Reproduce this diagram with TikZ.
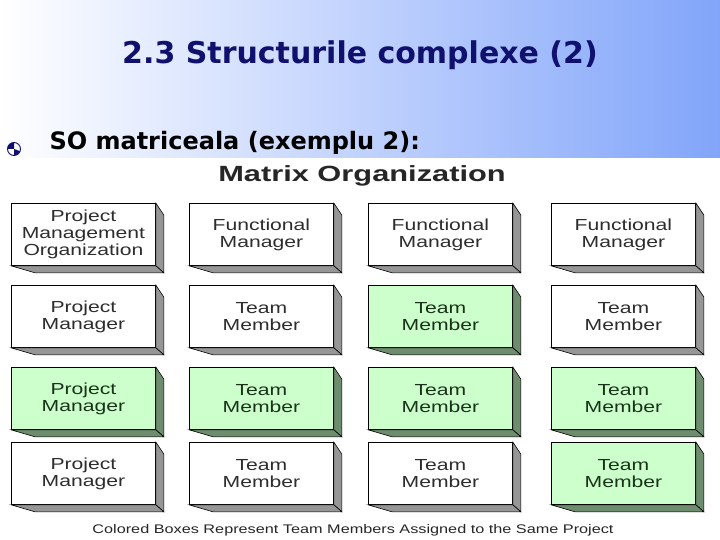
\documentclass[tikz,border=0pt]{standalone}
\usepackage{fontspec}
\usetikzlibrary{calc}
\setmainfont{DejaVu Sans}
\newfontfamily\boxfont[FakeStretch=1.32]{Liberation Sans}
\newfontfamily\capfont[FakeStretch=1.3]{Liberation Sans}
\newfontfamily\boxbold[FakeStretch=1.4]{Liberation Sans Bold}
\newfontfamily\titlefont{DejaVu Sans Bold}
\definecolor{navy}{RGB}{16,16,110}
\definecolor{bluebg}{RGB}{130,165,250}
\definecolor{greenface}{RGB}{204,255,204}
\definecolor{greenside}{RGB}{110,140,110}
\definecolor{grayside}{RGB}{150,150,150}
\definecolor{wtext}{RGB}{45,45,45}
\definecolor{gtext}{RGB}{25,50,25}
\tikzset{
  mbox/.style={draw=black, line width=0.8pt, anchor=north west, minimum width=144pt,
    minimum height=62pt, inner sep=0pt, align=center,
    font=\boxfont\fontsize{16}{17}\selectfont},
  wbox/.style={mbox, fill=white, text=wtext},
  gbox/.style={mbox, fill=greenface, text=gtext},
}
\newcommand\boxsides[2]{%
  \filldraw[fill=#2, draw=black, line width=0.6pt] (#1.north east) -- ++(8,12) -- ($(#1.south east)+(8,7)$) -- (#1.south east) -- cycle;
  \filldraw[fill=#2, draw=black, line width=0.6pt] (#1.south west) -- ++(24,7) -- ($(#1.south east)+(8,7)$) -- (#1.south east) -- cycle;
}
\begin{document}
\begin{tikzpicture}[x=1pt,y=-1pt]
\useasboundingbox (0,0) rectangle (720,540);
\fill[white] (0,0) rectangle (720,540);
\shade[left color=white, right color=bluebg] (0,0) rectangle (720,158);
\node[font=\titlefont\fontsize{30}{34}\selectfont, text=navy] (title) at (360,55) {2.3 Structurile complexe (2)};
% bullet
\coordinate (bc) at (14,149);
\filldraw[fill=white, draw=navy, line width=0.9pt] (bc) circle (6.5);
\fill[navy] (bc) ++(-6.5,0) arc (180:270:6.5) -- ++(0,6.5) -- cycle;
\fill[navy] (bc) ++(0,6.5) arc (90:20:6.5) -- (bc) -- cycle;
\node[font=\titlefont\fontsize{24}{28}\selectfont, text=black, anchor=west] (sub) at (46,143) {SO matriceala (exemplu 2):};
\node[font=\boxbold\fontsize{22}{25}\selectfont, text=black!85] (mo) at (362,176) {Matrix Organization};
% row 1
\node[wbox] (b11) at (11,203) {Project\\Management\\Organization};
\node[wbox] (b12) at (189,203) {Functional\\Manager};
\node[wbox] (b13) at (368,203) {Functional\\Manager};
\node[wbox] (b14) at (551,203) {Functional\\Manager};
% row 2
\node[wbox] (b21) at (11,285) {Project\\Manager};
\node[wbox] (b22) at (189,285) {Team\\Member};
\node[gbox] (b23) at (368,285) {Team\\Member};
\node[wbox] (b24) at (551,285) {Team\\Member};
% row 3
\node[gbox] (b31) at (11,367) {Project\\Manager};
\node[gbox] (b32) at (189,367) {Team\\Member};
\node[gbox] (b33) at (368,367) {Team\\Member};
\node[gbox] (b34) at (551,367) {Team\\Member};
% row 4
\node[wbox] (b41) at (11,442) {Project\\Manager};
\node[wbox] (b42) at (189,442) {Team\\Member};
\node[wbox] (b43) at (368,442) {Team\\Member};
\node[gbox] (b44) at (551,442) {Team\\Member};
\boxsides{b11}{grayside}\boxsides{b12}{grayside}\boxsides{b13}{grayside}\boxsides{b14}{grayside}
\boxsides{b21}{grayside}\boxsides{b22}{grayside}\boxsides{b23}{greenside}\boxsides{b24}{grayside}
\boxsides{b31}{greenside}\boxsides{b32}{greenside}\boxsides{b33}{greenside}\boxsides{b34}{greenside}
\boxsides{b41}{grayside}\boxsides{b42}{grayside}\boxsides{b43}{grayside}\boxsides{b44}{greenside}
\node[font=\capfont\fontsize{12.5}{14}\selectfont, text=black!85] (cap) at (353,530) {Colored Boxes Represent Team Members Assigned to the Same Project};
\end{tikzpicture}
\end{document}
